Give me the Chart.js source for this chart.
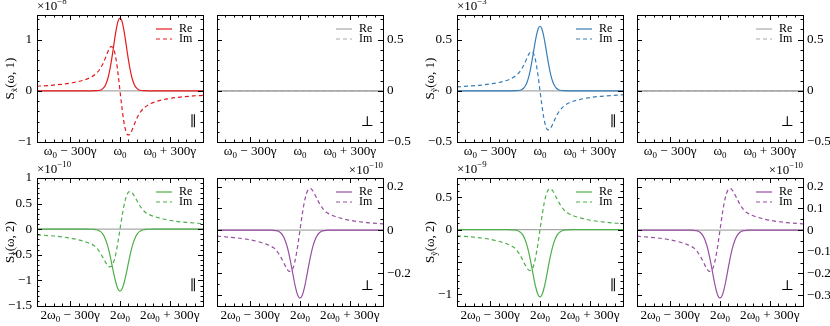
<!DOCTYPE html>
<html>
<head>
<meta charset="utf-8">
<script src="https://cdn.jsdelivr.net/npm/chart.js@4/dist/chart.umd.min.js"></script>
<style>
  body { margin: 0; background: #fff; }
  #wrap { position: relative; width: 830px; height: 326px; }
  #wrap canvas { position: absolute; left: 0; top: 0; }
</style>
</head>
<body>
<div id="wrap"></div>
<script>
// detuning from the resonance, in units of gamma
const topOffsets = [-500, -440, -352, -286, -220, -176, -143, -121, -110, -99, -88, -77, -66, -55, -44, -33, -22, -11, 0,
  11, 22, 33, 44, 55, 66, 77, 88, 99, 110, 121, 143, 176, 220, 286, 352, 440, 500];
const bottomOffsets = [-500, -400, -320, -260, -200, -169, -156, -143, -130, -117, -104, -91, -78, -65, -52, -39, -26, -13, 0,
  13, 26, 39, 52, 65, 78, 91, 104, 117, 130, 143, 156, 169, 200, 260, 320, 400, 500];
const edgeOffsets = [-500, 500];

// S_x(w,1) parallel, x1e-8
const reX1 = [0, 0, 0, 0, 0, 0, 0.002, 0.011, 0.026, 0.056, 0.110, 0.200, 0.337, 0.523, 0.748, 0.991, 1.210, 1.365, 1.42,
  1.365, 1.210, 0.991, 0.748, 0.523, 0.337, 0.200, 0.110, 0.056, 0.026, 0.011, 0.002, 0, 0, 0, 0, 0, 0];
const imX1 = [0.089, 0.101, 0.127, 0.157, 0.207, 0.264, 0.340, 0.424, 0.483, 0.556, 0.641, 0.731, 0.813, 0.862, 0.852, 0.761, 0.577, 0.312, 0,
  -0.312, -0.577, -0.761, -0.852, -0.862, -0.813, -0.731, -0.641, -0.556, -0.483, -0.424, -0.340, -0.264, -0.207, -0.157, -0.127, -0.101, -0.089];
// perpendicular components are zero
const reZero = [0, 0];
const imZero = [0, 0];

// S_y(w,1) parallel, x1e-3
const reY1 = [0, 0, 0, 0, 0, 0, 0.001, 0.005, 0.012, 0.025, 0.049, 0.089, 0.149, 0.232, 0.332, 0.440, 0.537, 0.605, 0.63,
  0.605, 0.537, 0.440, 0.332, 0.232, 0.149, 0.089, 0.049, 0.025, 0.012, 0.005, 0.001, 0, 0, 0, 0, 0, 0];
const imY1 = [0.039, 0.045, 0.056, 0.070, 0.092, 0.117, 0.151, 0.188, 0.214, 0.246, 0.284, 0.324, 0.360, 0.382, 0.378, 0.337, 0.256, 0.138, 0,
  -0.138, -0.256, -0.337, -0.378, -0.382, -0.360, -0.324, -0.284, -0.246, -0.214, -0.188, -0.151, -0.117, -0.092, -0.070, -0.056, -0.045, -0.039];

// S_x(w,2) parallel, x1e-10
const reX2 = [0, 0, 0, 0, 0, -0.001, -0.004, -0.010, -0.022, -0.047, -0.093, -0.171, -0.287, -0.445, -0.638, -0.845, -1.031, -1.163, -1.21,
  -1.163, -1.031, -0.845, -0.638, -0.445, -0.287, -0.171, -0.093, -0.047, -0.022, -0.010, -0.004, -0.001, 0, 0, 0, 0, 0];
const imX2 = [-0.109, -0.133, -0.163, -0.200, -0.254, -0.296, -0.321, -0.361, -0.411, -0.473, -0.546, -0.623, -0.692, -0.734, -0.726, -0.649, -0.491, -0.266, 0,
  0.266, 0.491, 0.649, 0.726, 0.734, 0.692, 0.623, 0.546, 0.473, 0.411, 0.361, 0.321, 0.296, 0.254, 0.200, 0.163, 0.133, 0.109];

// S_x(w,2) perpendicular, x1e-10
const reX2p = [0, 0, 0, 0, 0, -0.0003, -0.001, -0.0025, -0.0057, -0.0122, -0.0242, -0.0443, -0.0744, -0.1156, -0.1655, -0.2192, -0.2675, -0.3018, -0.314,
  -0.3018, -0.2675, -0.2192, -0.1655, -0.1156, -0.0744, -0.0443, -0.0242, -0.0122, -0.0057, -0.0025, -0.001, -0.0003, 0, 0, 0, 0, 0];
const imX2p = [-0.0283, -0.0345, -0.0424, -0.0518, -0.0659, -0.0769, -0.0832, -0.0936, -0.1068, -0.1228, -0.1416, -0.1617, -0.1796, -0.1906, -0.1884, -0.1683, -0.1275, -0.0691, 0,
  0.0691, 0.1275, 0.1683, 0.1884, 0.1906, 0.1796, 0.1617, 0.1416, 0.1228, 0.1068, 0.0936, 0.0832, 0.0769, 0.0659, 0.0518, 0.0424, 0.0345, 0.0283];

// S_y(w,2) parallel, x1e-9
const reY2 = [0, 0, 0, 0, 0, -0.001, -0.003, -0.008, -0.019, -0.041, -0.080, -0.147, -0.246, -0.383, -0.548, -0.726, -0.886, -0.999, -1.04,
  -0.999, -0.886, -0.726, -0.548, -0.383, -0.246, -0.147, -0.080, -0.041, -0.019, -0.008, -0.003, -0.001, 0, 0, 0, 0, 0];
const imY2 = [-0.094, -0.114, -0.140, -0.172, -0.218, -0.255, -0.276, -0.310, -0.354, -0.407, -0.469, -0.536, -0.595, -0.631, -0.624, -0.557, -0.422, -0.229, 0,
  0.229, 0.422, 0.557, 0.624, 0.631, 0.595, 0.536, 0.469, 0.407, 0.354, 0.310, 0.276, 0.255, 0.218, 0.172, 0.140, 0.114, 0.094];

// S_y(w,2) perpendicular, x1e-10
const reY2p = [0, 0, 0, 0, 0, -0.0003, -0.001, -0.0025, -0.0057, -0.0122, -0.0242, -0.0443, -0.0744, -0.1156, -0.1655, -0.2192, -0.2675, -0.3018, -0.314,
  -0.3018, -0.2675, -0.2192, -0.1655, -0.1156, -0.0744, -0.0443, -0.0242, -0.0122, -0.0057, -0.0025, -0.001, -0.0003, 0, 0, 0, 0, 0];
const imY2p = [-0.0283, -0.0345, -0.0424, -0.0518, -0.0659, -0.0769, -0.0832, -0.0936, -0.1068, -0.1228, -0.1416, -0.1617, -0.1796, -0.1906, -0.1884, -0.1683, -0.1275, -0.0691, 0,
  0.0691, 0.1275, 0.1683, 0.1884, 0.1906, 0.1796, 0.1617, 0.1416, 0.1228, 0.1068, 0.0936, 0.0832, 0.0769, 0.0659, 0.0518, 0.0424, 0.0345, 0.0283];

// tick positions and labels
const xTickValues = [-300, 0, 300];
const topTickLabels = ['ω_{0} − 300γ', 'ω_{0}', 'ω_{0} + 300γ'];
const bottomTickLabels = ['2ω_{0} − 300γ', '2ω_{0}', '2ω_{0} + 300γ'];
const yTicksX1 = [-1, 0, 1];
const yTicksHalf = [-0.5, 0, 0.5];
const yTicksX2 = [-1.5, -1, -0.5, 0, 0.5, 1];
const yTicksX2p = [-0.2, 0, 0.2];
const yTicksY2 = [-1, 0, 0.5];
const yTicksY2p = [-0.3, -0.2, -0.1, 0, 0.1, 0.2];

const FONT = '"Liberation Serif", "DejaVu Serif", "Times New Roman", serif';
const GREY = '#a9a9a9';

function parseRich(s) {
  const parts = [];
  const re = /([_^])\{([^}]*)\}/g;
  let last = 0, m;
  while ((m = re.exec(s))) {
    if (m.index > last) parts.push([s.slice(last, m.index), '']);
    parts.push([m[2], m[1] === '_' ? 'sub' : 'sup']);
    last = re.lastIndex;
  }
  if (last < s.length) parts.push([s.slice(last), '']);
  return parts;
}

function drawRich(ctx, str, x, y, size, align) {
  const spans = parseRich(str).map(([t, k]) => {
    const s = k ? size * 0.68 : size;
    ctx.font = s + 'px ' + FONT;
    return { t, k, s, w: ctx.measureText(t).width };
  });
  const total = spans.reduce((a, b) => a + b.w, 0);
  let cx = align === 'center' ? x - total / 2 : align === 'right' ? x - total : x;
  ctx.textAlign = 'left';
  ctx.textBaseline = 'middle';
  for (const sp of spans) {
    ctx.font = sp.s + 'px ' + FONT;
    const dy = sp.k === 'sub' ? size * 0.3 : sp.k === 'sup' ? -size * 0.38 : 0;
    ctx.fillText(sp.t, cx, y + dy);
    cx += sp.w;
  }
}

function fmt(v) {
  return v < 0 ? '−' + Math.abs(v) : String(v);
}

const panelDecor = {
  id: 'panelDecor',
  beforeDatasetsDraw(chart) {
    const { ctx, chartArea: a, scales } = chart;
    const y0 = scales.y.getPixelForValue(0);
    ctx.save();
    ctx.strokeStyle = GREY;
    ctx.lineWidth = 1.3;
    ctx.beginPath();
    ctx.moveTo(a.left, y0);
    ctx.lineTo(a.right, y0);
    ctx.stroke();
    ctx.restore();
  },
  afterDraw(chart, args, o) {
    const { ctx, chartArea: a, scales } = chart;
    const sx = scales.x, sy = scales.y;
    ctx.save();
    ctx.strokeStyle = '#000';
    ctx.fillStyle = '#000';
    ctx.lineWidth = 1;

    // inward ticks on all four sides
    const tick = (x1, y1, x2, y2) => { ctx.moveTo(x1, y1); ctx.lineTo(x2, y2); };
    ctx.beginPath();
    for (let v = -500; v <= 500; v += 50) {
      const px = Math.round(sx.getPixelForValue(v)) + 0.5;
      const len = xTickValues.includes(v) ? 5 : 2.5;
      tick(px, a.bottom, px, a.bottom - len);
      tick(px, a.top, px, a.top + len);
    }
    const start = Math.ceil(o.yMin / o.yStep - 1e-6);
    for (let k = start; k * o.yStep <= o.yMax + 1e-9; k++) {
      const v = k * o.yStep;
      const py = Math.round(sy.getPixelForValue(v)) + 0.5;
      const len = o.yMajor.some(m => Math.abs(m - v) < 1e-6) ? 5 : 2.5;
      tick(a.left, py, a.left + len, py);
      tick(a.right, py, a.right - len, py);
    }
    ctx.stroke();

    // frame
    ctx.strokeRect(Math.round(a.left) + 0.5, Math.round(a.top) + 0.5,
      Math.round(a.right - a.left), Math.round(a.bottom - a.top));

    // tick labels
    xTickValues.forEach((v, i) => {
      drawRich(ctx, o.xLabels[i], sx.getPixelForValue(v), a.bottom + 10, 13.2, 'center');
    });
    o.yLabels.forEach(v => {
      const py = sy.getPixelForValue(v);
      if (o.side === 'left') drawRich(ctx, fmt(v), a.left - 5, py, 13.2, 'right');
      else drawRich(ctx, fmt(v), a.right + 4, py, 13.2, 'left');
    });

    // exponent
    if (o.exp) {
      if (o.expSide === 'left') drawRich(ctx, o.exp, a.left, a.top - 8, 13, 'left');
      else drawRich(ctx, o.exp, a.right, a.top - 7, 13, 'right');
    }

    // axis title
    if (o.title) {
      ctx.save();
      ctx.translate(a.left - 26, (a.top + a.bottom) / 2);
      ctx.rotate(-Math.PI / 2);
      drawRich(ctx, o.title, 0, 0, 13, 'center');
      ctx.restore();
    }

    // polarisation symbol
    ctx.font = '14px ' + FONT;
    ctx.textAlign = 'center';
    ctx.textBaseline = 'middle';
    ctx.fillText(o.sym, a.right - (o.sym === '⊥' ? 16 : 10), a.bottom - 20);

    // legend
    chart.data.datasets.forEach((ds, i) => {
      const ly = a.top + 14 + i * 10;
      ctx.save();
      ctx.strokeStyle = ds.borderColor;
      ctx.lineWidth = 1.2;
      ctx.setLineDash(ds.borderDash || []);
      ctx.beginPath();
      ctx.moveTo(a.right - 47, ly);
      ctx.lineTo(a.right - 31, ly);
      ctx.stroke();
      ctx.restore();
      drawRich(ctx, ds.label, a.right - 24, ly, 12, 'left');
    });
    ctx.restore();
  }
};

const panels = [
  { box: [37, 15, 203, 142], xs: topOffsets, re: reX1, im: imX1, color: '#e41a1c', yMin: -1, yMax: 1.48,
    yMajor: yTicksX1, yLabels: yTicksX1, yStep: 0.2, side: 'left', exp: '×10^{−8}', expSide: 'left',
    title: 'S_{x̃}(ω, 1)', sym: '∥', xLabels: topTickLabels },
  { box: [217, 15, 383, 142], xs: edgeOffsets, re: reZero, im: imZero, color: GREY, yMin: -0.5, yMax: 0.74,
    yMajor: yTicksHalf, yLabels: yTicksHalf, yStep: 0.1, side: 'right', exp: null,
    title: null, sym: '⊥', xLabels: topTickLabels },
  { box: [457, 15, 623, 142], xs: topOffsets, re: reY1, im: imY1, color: '#377eb8', yMin: -0.5, yMax: 0.74,
    yMajor: yTicksHalf, yLabels: yTicksHalf, yStep: 0.1, side: 'left', exp: '×10^{−3}', expSide: 'left',
    title: 'S_{ỹ}(ω, 1)', sym: '∥', xLabels: topTickLabels },
  { box: [637, 15, 803, 142], xs: edgeOffsets, re: reZero, im: imZero, color: GREY, yMin: -0.5, yMax: 0.74,
    yMajor: yTicksHalf, yLabels: yTicksHalf, yStep: 0.1, side: 'right', exp: null,
    title: null, sym: '⊥', xLabels: topTickLabels },
  { box: [37, 178, 203, 306], xs: bottomOffsets, re: reX2, im: imX2, color: '#4daf4a', yMin: -1.5, yMax: 1,
    yMajor: yTicksX2, yLabels: yTicksX2, yStep: 0.1, side: 'left', exp: '×10^{−10}', expSide: 'left',
    title: 'S_{x̃}(ω, 2)', sym: '∥', xLabels: bottomTickLabels },
  { box: [217, 178, 383, 306], xs: bottomOffsets, re: reX2p, im: imX2p, color: '#984ea3', yMin: -0.35, yMax: 0.24,
    yMajor: yTicksY2p, yLabels: yTicksX2p, yStep: 0.05, side: 'right', exp: '×10^{−10}', expSide: 'right',
    title: null, sym: '⊥', xLabels: bottomTickLabels },
  { box: [457, 178, 623, 306], xs: bottomOffsets, re: reY2, im: imY2, color: '#4daf4a', yMin: -1.18, yMax: 0.8,
    yMajor: [-1, -0.5, 0, 0.5], yLabels: yTicksY2, yStep: 0.1, side: 'left', exp: '×10^{−9}', expSide: 'left',
    title: 'S_{ỹ}(ω, 2)', sym: '∥', xLabels: bottomTickLabels },
  { box: [637, 178, 803, 306], xs: bottomOffsets, re: reY2p, im: imY2p, color: '#984ea3', yMin: -0.35, yMax: 0.24,
    yMajor: yTicksY2p, yLabels: yTicksY2p, yStep: 0.05, side: 'right', exp: '×10^{−10}', expSide: 'right',
    title: null, sym: '⊥', xLabels: bottomTickLabels }
];

const wrap = document.getElementById('wrap');
panels.forEach(p => {
  const cv = document.createElement('canvas');
  cv.width = 830;
  cv.height = 326;
  wrap.appendChild(cv);
  const pts = ys => p.xs.map((x, i) => ({ x, y: ys[i] }));
  new Chart(cv.getContext('2d'), {
    type: 'line',
    data: {
      datasets: [
        { label: 'Re', data: pts(p.re), borderColor: p.color, borderWidth: 1.2, pointRadius: 0,
          cubicInterpolationMode: 'monotone' },
        { label: 'Im', data: pts(p.im), borderColor: p.color, borderWidth: 1.2, pointRadius: 0,
          borderDash: [4, 3], cubicInterpolationMode: 'monotone' }
      ]
    },
    options: {
      responsive: false,
      animation: false,
      events: [],
      layout: { padding: { left: p.box[0], top: p.box[1], right: 830 - p.box[2], bottom: 326 - p.box[3] } },
      scales: {
        x: { type: 'linear', min: -500, max: 500, display: false },
        y: { type: 'linear', min: p.yMin, max: p.yMax, display: false }
      },
      plugins: {
        legend: { display: false },
        tooltip: { enabled: false },
        panelDecor: p
      }
    },
    plugins: [panelDecor]
  });
});
</script>
</body>
</html>
